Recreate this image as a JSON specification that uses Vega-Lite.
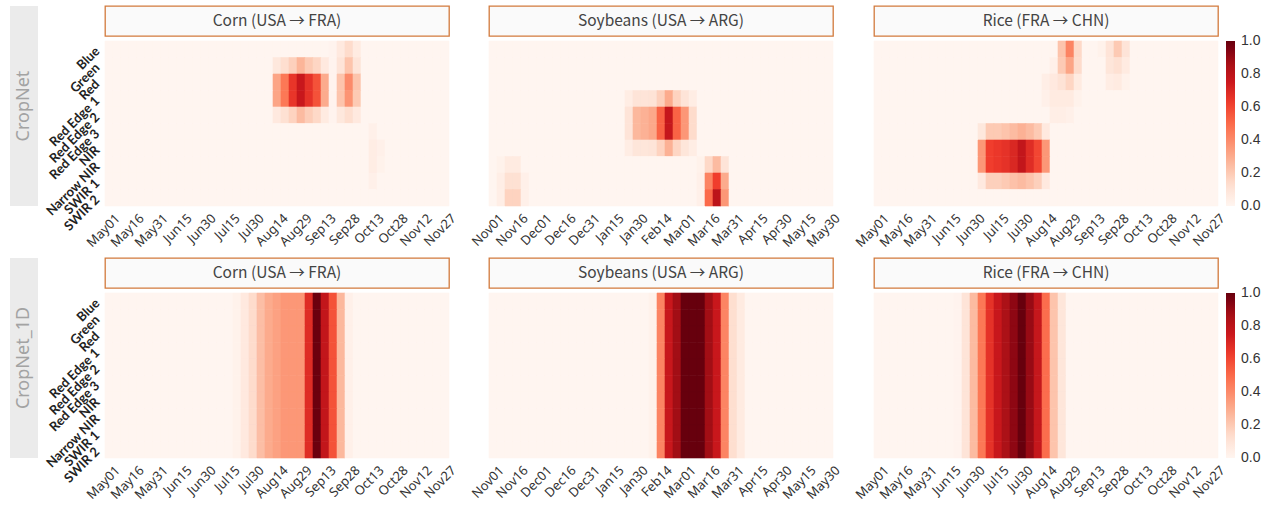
{
"$schema": "https://vega.github.io/schema/vega-lite/v6.json",
"padding": {"left": 10, "top": 5, "right": 5, "bottom": 0},
"background": "white",
"config": {"view": {"stroke": null}, "axis": {"grid": false}, "legend": {"gradientStrokeWidth": 0}},
"datasets": {
"cornA": [
{"b":"Blue","May01":0,"May06":0,"May11":0,"May16":0,"May21":0,"May26":0,"May31":0,"Jun05":0,"Jun10":0,"Jun15":0,"Jun20":0,"Jun25":0,"Jun30":0,"Jul05":0,"Jul10":0,"Jul15":0,"Jul20":0,"Jul25":0,"Jul30":0,"Aug04":0,"Aug09":0,"Aug14":0,"Aug19":0,"Aug24":0,"Aug29":0,"Sep03":0,"Sep08":0,"Sep13":0,"Sep18":0.01,"Sep23":0.07,"Sep28":0.14,"Oct03":0.06,"Oct08":0,"Oct13":0,"Oct18":0,"Oct23":0,"Oct28":0,"Nov02":0,"Nov07":0,"Nov12":0,"Nov17":0,"Nov22":0,"Nov27":0},
{"b":"Green","May01":0,"May06":0,"May11":0,"May16":0,"May21":0,"May26":0,"May31":0,"Jun05":0,"Jun10":0,"Jun15":0,"Jun20":0,"Jun25":0,"Jun30":0,"Jul05":0,"Jul10":0,"Jul15":0,"Jul20":0,"Jul25":0,"Jul30":0,"Aug04":0,"Aug09":0,"Aug14":0.08,"Aug19":0.13,"Aug24":0.18,"Aug29":0.27,"Sep03":0.2,"Sep08":0.16,"Sep13":0.07,"Sep18":0.01,"Sep23":0.1,"Sep28":0.22,"Oct03":0.1,"Oct08":0,"Oct13":0,"Oct18":0,"Oct23":0,"Oct28":0,"Nov02":0,"Nov07":0,"Nov12":0,"Nov17":0,"Nov22":0,"Nov27":0},
{"b":"Red","May01":0,"May06":0,"May11":0,"May16":0,"May21":0,"May26":0,"May31":0,"Jun05":0,"Jun10":0,"Jun15":0,"Jun20":0,"Jun25":0,"Jun30":0,"Jul05":0,"Jul10":0,"Jul15":0,"Jul20":0,"Jul25":0,"Jul30":0,"Aug04":0,"Aug09":0,"Aug14":0.32,"Aug19":0.46,"Aug24":0.65,"Aug29":0.76,"Sep03":0.66,"Sep08":0.57,"Sep13":0.3,"Sep18":0.01,"Sep23":0.22,"Sep28":0.4,"Oct03":0.22,"Oct08":0,"Oct13":0,"Oct18":0,"Oct23":0,"Oct28":0,"Nov02":0,"Nov07":0,"Nov12":0,"Nov17":0,"Nov22":0,"Nov27":0},
{"b":"Red Edge 1","May01":0,"May06":0,"May11":0,"May16":0,"May21":0,"May26":0,"May31":0,"Jun05":0,"Jun10":0,"Jun15":0,"Jun20":0,"Jun25":0,"Jun30":0,"Jul05":0,"Jul10":0,"Jul15":0,"Jul20":0,"Jul25":0,"Jul30":0,"Aug04":0,"Aug09":0,"Aug14":0.32,"Aug19":0.46,"Aug24":0.65,"Aug29":0.76,"Sep03":0.66,"Sep08":0.57,"Sep13":0.3,"Sep18":0.01,"Sep23":0.22,"Sep28":0.37,"Oct03":0.2,"Oct08":0,"Oct13":0,"Oct18":0,"Oct23":0,"Oct28":0,"Nov02":0,"Nov07":0,"Nov12":0,"Nov17":0,"Nov22":0,"Nov27":0},
{"b":"Red Edge 2","May01":0,"May06":0,"May11":0,"May16":0,"May21":0,"May26":0,"May31":0,"Jun05":0,"Jun10":0,"Jun15":0,"Jun20":0,"Jun25":0,"Jun30":0,"Jul05":0,"Jul10":0,"Jul15":0,"Jul20":0,"Jul25":0,"Jul30":0,"Aug04":0,"Aug09":0,"Aug14":0.07,"Aug19":0.12,"Aug24":0.17,"Aug29":0.25,"Sep03":0.19,"Sep08":0.15,"Sep13":0.06,"Sep18":0.01,"Sep23":0.08,"Sep28":0.13,"Oct03":0.07,"Oct08":0,"Oct13":0,"Oct18":0,"Oct23":0,"Oct28":0,"Nov02":0,"Nov07":0,"Nov12":0,"Nov17":0,"Nov22":0,"Nov27":0},
{"b":"Red Edge 3","May01":0,"May06":0,"May11":0,"May16":0,"May21":0,"May26":0,"May31":0,"Jun05":0,"Jun10":0,"Jun15":0,"Jun20":0,"Jun25":0,"Jun30":0,"Jul05":0,"Jul10":0,"Jul15":0,"Jul20":0,"Jul25":0,"Jul30":0,"Aug04":0,"Aug09":0,"Aug14":0,"Aug19":0,"Aug24":0,"Aug29":0,"Sep03":0,"Sep08":0,"Sep13":0,"Sep18":0,"Sep23":0,"Sep28":0,"Oct03":0,"Oct08":0,"Oct13":0.03,"Oct18":0,"Oct23":0,"Oct28":0,"Nov02":0,"Nov07":0,"Nov12":0,"Nov17":0,"Nov22":0,"Nov27":0},
{"b":"NIR","May01":0,"May06":0,"May11":0,"May16":0,"May21":0,"May26":0,"May31":0,"Jun05":0,"Jun10":0,"Jun15":0,"Jun20":0,"Jun25":0,"Jun30":0,"Jul05":0,"Jul10":0,"Jul15":0,"Jul20":0,"Jul25":0,"Jul30":0,"Aug04":0,"Aug09":0,"Aug14":0,"Aug19":0,"Aug24":0,"Aug29":0,"Sep03":0,"Sep08":0,"Sep13":0,"Sep18":0,"Sep23":0,"Sep28":0,"Oct03":0,"Oct08":0,"Oct13":0.05,"Oct18":0.03,"Oct23":0,"Oct28":0,"Nov02":0,"Nov07":0,"Nov12":0,"Nov17":0,"Nov22":0,"Nov27":0},
{"b":"Narrow NIR","May01":0,"May06":0,"May11":0,"May16":0,"May21":0,"May26":0,"May31":0,"Jun05":0,"Jun10":0,"Jun15":0,"Jun20":0,"Jun25":0,"Jun30":0,"Jul05":0,"Jul10":0,"Jul15":0,"Jul20":0,"Jul25":0,"Jul30":0,"Aug04":0,"Aug09":0,"Aug14":0,"Aug19":0,"Aug24":0,"Aug29":0,"Sep03":0,"Sep08":0,"Sep13":0,"Sep18":0,"Sep23":0,"Sep28":0,"Oct03":0,"Oct08":0,"Oct13":0.05,"Oct18":0.02,"Oct23":0,"Oct28":0,"Nov02":0,"Nov07":0,"Nov12":0,"Nov17":0,"Nov22":0,"Nov27":0},
{"b":"SWIR 1","May01":0,"May06":0,"May11":0,"May16":0,"May21":0,"May26":0,"May31":0,"Jun05":0,"Jun10":0,"Jun15":0,"Jun20":0,"Jun25":0,"Jun30":0,"Jul05":0,"Jul10":0,"Jul15":0,"Jul20":0,"Jul25":0,"Jul30":0,"Aug04":0,"Aug09":0,"Aug14":0,"Aug19":0,"Aug24":0,"Aug29":0,"Sep03":0,"Sep08":0,"Sep13":0,"Sep18":0,"Sep23":0,"Sep28":0,"Oct03":0,"Oct08":0,"Oct13":0.03,"Oct18":0,"Oct23":0,"Oct28":0,"Nov02":0,"Nov07":0,"Nov12":0,"Nov17":0,"Nov22":0,"Nov27":0},
{"b":"SWIR 2","May01":0,"May06":0,"May11":0,"May16":0,"May21":0,"May26":0,"May31":0,"Jun05":0,"Jun10":0,"Jun15":0,"Jun20":0,"Jun25":0,"Jun30":0,"Jul05":0,"Jul10":0,"Jul15":0,"Jul20":0,"Jul25":0,"Jul30":0,"Aug04":0,"Aug09":0,"Aug14":0,"Aug19":0,"Aug24":0,"Aug29":0,"Sep03":0,"Sep08":0,"Sep13":0,"Sep18":0,"Sep23":0,"Sep28":0,"Oct03":0,"Oct08":0,"Oct13":0,"Oct18":0,"Oct23":0,"Oct28":0,"Nov02":0,"Nov07":0,"Nov12":0,"Nov17":0,"Nov22":0,"Nov27":0}
],
"soyA": [
{"b":"Blue","Nov01":0,"Nov06":0,"Nov11":0,"Nov16":0,"Nov21":0,"Nov26":0,"Dec01":0,"Dec06":0,"Dec11":0,"Dec16":0,"Dec21":0,"Dec26":0,"Dec31":0,"Jan05":0,"Jan10":0,"Jan15":0,"Jan20":0,"Jan25":0,"Jan30":0,"Feb04":0,"Feb09":0,"Feb14":0,"Feb19":0,"Feb24":0,"Mar01":0,"Mar06":0,"Mar11":0,"Mar16":0,"Mar21":0,"Mar26":0,"Mar31":0,"Apr05":0,"Apr10":0,"Apr15":0,"Apr20":0,"Apr25":0,"Apr30":0,"May05":0,"May10":0,"May15":0,"May20":0,"May25":0,"May30":0},
{"b":"Green","Nov01":0,"Nov06":0,"Nov11":0,"Nov16":0,"Nov21":0,"Nov26":0,"Dec01":0,"Dec06":0,"Dec11":0,"Dec16":0,"Dec21":0,"Dec26":0,"Dec31":0,"Jan05":0,"Jan10":0,"Jan15":0,"Jan20":0,"Jan25":0,"Jan30":0,"Feb04":0,"Feb09":0,"Feb14":0,"Feb19":0,"Feb24":0,"Mar01":0,"Mar06":0,"Mar11":0,"Mar16":0,"Mar21":0,"Mar26":0,"Mar31":0,"Apr05":0,"Apr10":0,"Apr15":0,"Apr20":0,"Apr25":0,"Apr30":0,"May05":0,"May10":0,"May15":0,"May20":0,"May25":0,"May30":0},
{"b":"Red","Nov01":0,"Nov06":0,"Nov11":0,"Nov16":0,"Nov21":0,"Nov26":0,"Dec01":0,"Dec06":0,"Dec11":0,"Dec16":0,"Dec21":0,"Dec26":0,"Dec31":0,"Jan05":0,"Jan10":0,"Jan15":0,"Jan20":0,"Jan25":0,"Jan30":0,"Feb04":0,"Feb09":0,"Feb14":0,"Feb19":0,"Feb24":0,"Mar01":0,"Mar06":0,"Mar11":0,"Mar16":0,"Mar21":0,"Mar26":0,"Mar31":0,"Apr05":0,"Apr10":0,"Apr15":0,"Apr20":0,"Apr25":0,"Apr30":0,"May05":0,"May10":0,"May15":0,"May20":0,"May25":0,"May30":0},
{"b":"Red Edge 1","Nov01":0,"Nov06":0,"Nov11":0,"Nov16":0,"Nov21":0,"Nov26":0,"Dec01":0,"Dec06":0,"Dec11":0,"Dec16":0,"Dec21":0,"Dec26":0,"Dec31":0,"Jan05":0,"Jan10":0,"Jan15":0,"Jan20":0,"Jan25":0.05,"Jan30":0.1,"Feb04":0.1,"Feb09":0.11,"Feb14":0.18,"Feb19":0.3,"Feb24":0.17,"Mar01":0.1,"Mar06":0.05,"Mar11":0,"Mar16":0,"Mar21":0,"Mar26":0,"Mar31":0,"Apr05":0,"Apr10":0,"Apr15":0,"Apr20":0,"Apr25":0,"Apr30":0,"May05":0,"May10":0,"May15":0,"May20":0,"May25":0,"May30":0},
{"b":"Red Edge 2","Nov01":0,"Nov06":0,"Nov11":0,"Nov16":0,"Nov21":0,"Nov26":0,"Dec01":0,"Dec06":0,"Dec11":0,"Dec16":0,"Dec21":0,"Dec26":0,"Dec31":0,"Jan05":0,"Jan10":0,"Jan15":0,"Jan20":0,"Jan25":0.1,"Jan30":0.26,"Feb04":0.28,"Feb09":0.31,"Feb14":0.52,"Feb19":0.77,"Feb24":0.52,"Mar01":0.36,"Mar06":0.14,"Mar11":0,"Mar16":0,"Mar21":0,"Mar26":0,"Mar31":0,"Apr05":0,"Apr10":0,"Apr15":0,"Apr20":0,"Apr25":0,"Apr30":0,"May05":0,"May10":0,"May15":0,"May20":0,"May25":0,"May30":0},
{"b":"Red Edge 3","Nov01":0,"Nov06":0,"Nov11":0,"Nov16":0,"Nov21":0,"Nov26":0,"Dec01":0,"Dec06":0,"Dec11":0,"Dec16":0,"Dec21":0,"Dec26":0,"Dec31":0,"Jan05":0,"Jan10":0,"Jan15":0,"Jan20":0,"Jan25":0.1,"Jan30":0.26,"Feb04":0.28,"Feb09":0.31,"Feb14":0.52,"Feb19":0.77,"Feb24":0.52,"Mar01":0.36,"Mar06":0.14,"Mar11":0,"Mar16":0,"Mar21":0,"Mar26":0,"Mar31":0,"Apr05":0,"Apr10":0,"Apr15":0,"Apr20":0,"Apr25":0,"Apr30":0,"May05":0,"May10":0,"May15":0,"May20":0,"May25":0,"May30":0},
{"b":"NIR","Nov01":0,"Nov06":0,"Nov11":0,"Nov16":0,"Nov21":0,"Nov26":0,"Dec01":0,"Dec06":0,"Dec11":0,"Dec16":0,"Dec21":0,"Dec26":0,"Dec31":0,"Jan05":0,"Jan10":0,"Jan15":0,"Jan20":0,"Jan25":0.05,"Jan30":0.09,"Feb04":0.09,"Feb09":0.1,"Feb14":0.17,"Feb19":0.28,"Feb24":0.16,"Mar01":0.09,"Mar06":0.05,"Mar11":0,"Mar16":0,"Mar21":0,"Mar26":0,"Mar31":0,"Apr05":0,"Apr10":0,"Apr15":0,"Apr20":0,"Apr25":0,"Apr30":0,"May05":0,"May10":0,"May15":0,"May20":0,"May25":0,"May30":0},
{"b":"Narrow NIR","Nov01":0,"Nov06":0.02,"Nov11":0.06,"Nov16":0.06,"Nov21":0,"Nov26":0,"Dec01":0,"Dec06":0,"Dec11":0,"Dec16":0,"Dec21":0,"Dec26":0,"Dec31":0,"Jan05":0,"Jan10":0,"Jan15":0,"Jan20":0,"Jan25":0,"Jan30":0,"Feb04":0,"Feb09":0,"Feb14":0,"Feb19":0,"Feb24":0,"Mar01":0,"Mar06":0,"Mar11":0.02,"Mar16":0.15,"Mar21":0.25,"Mar26":0.1,"Mar31":0,"Apr05":0,"Apr10":0,"Apr15":0,"Apr20":0,"Apr25":0,"Apr30":0,"May05":0,"May10":0,"May15":0,"May20":0,"May25":0,"May30":0},
{"b":"SWIR 1","Nov01":0,"Nov06":0.04,"Nov11":0.12,"Nov16":0.12,"Nov21":0.03,"Nov26":0,"Dec01":0,"Dec06":0,"Dec11":0,"Dec16":0,"Dec21":0,"Dec26":0,"Dec31":0,"Jan05":0,"Jan10":0,"Jan15":0,"Jan20":0,"Jan25":0,"Jan30":0,"Feb04":0,"Feb09":0,"Feb14":0,"Feb19":0,"Feb24":0,"Mar01":0,"Mar06":0,"Mar11":0.03,"Mar16":0.42,"Mar21":0.62,"Mar26":0.3,"Mar31":0,"Apr05":0,"Apr10":0,"Apr15":0,"Apr20":0,"Apr25":0,"Apr30":0,"May05":0,"May10":0,"May15":0,"May20":0,"May25":0,"May30":0},
{"b":"SWIR 2","Nov01":0,"Nov06":0.04,"Nov11":0.17,"Nov16":0.17,"Nov21":0.03,"Nov26":0,"Dec01":0,"Dec06":0,"Dec11":0,"Dec16":0,"Dec21":0,"Dec26":0,"Dec31":0,"Jan05":0,"Jan10":0,"Jan15":0,"Jan20":0,"Jan25":0,"Jan30":0,"Feb04":0,"Feb09":0,"Feb14":0,"Feb19":0,"Feb24":0,"Mar01":0,"Mar06":0,"Mar11":0.03,"Mar16":0.5,"Mar21":0.8,"Mar26":0.36,"Mar31":0,"Apr05":0,"Apr10":0,"Apr15":0,"Apr20":0,"Apr25":0,"Apr30":0,"May05":0,"May10":0,"May15":0,"May20":0,"May25":0,"May30":0}
],
"riceA": [
{"b":"Blue","May01":0,"May06":0,"May11":0,"May16":0,"May21":0,"May26":0,"May31":0,"Jun05":0,"Jun10":0,"Jun15":0,"Jun20":0,"Jun25":0,"Jun30":0,"Jul05":0,"Jul10":0,"Jul15":0,"Jul20":0,"Jul25":0,"Jul30":0,"Aug04":0,"Aug09":0,"Aug14":0,"Aug19":0,"Aug24":0.22,"Aug29":0.42,"Sep03":0.15,"Sep08":0,"Sep13":0,"Sep18":0.02,"Sep23":0.1,"Sep28":0.2,"Oct03":0.1,"Oct08":0,"Oct13":0,"Oct18":0,"Oct23":0,"Oct28":0,"Nov02":0,"Nov07":0,"Nov12":0,"Nov17":0,"Nov22":0,"Nov27":0},
{"b":"Green","May01":0,"May06":0,"May11":0,"May16":0,"May21":0,"May26":0,"May31":0,"Jun05":0,"Jun10":0,"Jun15":0,"Jun20":0,"Jun25":0,"Jun30":0,"Jul05":0,"Jul10":0,"Jul15":0,"Jul20":0,"Jul25":0,"Jul30":0,"Aug04":0,"Aug09":0,"Aug14":0,"Aug19":0.03,"Aug24":0.2,"Aug29":0.32,"Sep03":0.14,"Sep08":0,"Sep13":0,"Sep18":0,"Sep23":0.09,"Sep28":0.12,"Oct03":0.06,"Oct08":0,"Oct13":0,"Oct18":0,"Oct23":0,"Oct28":0,"Nov02":0,"Nov07":0,"Nov12":0,"Nov17":0,"Nov22":0,"Nov27":0},
{"b":"Red","May01":0,"May06":0,"May11":0,"May16":0,"May21":0,"May26":0,"May31":0,"Jun05":0,"Jun10":0,"Jun15":0,"Jun20":0,"Jun25":0,"Jun30":0,"Jul05":0,"Jul10":0,"Jul15":0,"Jul20":0,"Jul25":0,"Jul30":0,"Aug04":0,"Aug09":0,"Aug14":0.04,"Aug19":0.07,"Aug24":0.11,"Aug29":0.16,"Sep03":0.06,"Sep08":0,"Sep13":0,"Sep18":0,"Sep23":0.05,"Sep28":0.06,"Oct03":0.02,"Oct08":0,"Oct13":0,"Oct18":0,"Oct23":0,"Oct28":0,"Nov02":0,"Nov07":0,"Nov12":0,"Nov17":0,"Nov22":0,"Nov27":0},
{"b":"Red Edge 1","May01":0,"May06":0,"May11":0,"May16":0,"May21":0,"May26":0,"May31":0,"Jun05":0,"Jun10":0,"Jun15":0,"Jun20":0,"Jun25":0,"Jun30":0,"Jul05":0,"Jul10":0,"Jul15":0,"Jul20":0,"Jul25":0,"Jul30":0,"Aug04":0,"Aug09":0,"Aug14":0.03,"Aug19":0.06,"Aug24":0.06,"Aug29":0.06,"Sep03":0.02,"Sep08":0,"Sep13":0,"Sep18":0,"Sep23":0,"Sep28":0,"Oct03":0,"Oct08":0,"Oct13":0,"Oct18":0,"Oct23":0,"Oct28":0,"Nov02":0,"Nov07":0,"Nov12":0,"Nov17":0,"Nov22":0,"Nov27":0},
{"b":"Red Edge 2","May01":0,"May06":0,"May11":0,"May16":0,"May21":0,"May26":0,"May31":0,"Jun05":0,"Jun10":0,"Jun15":0,"Jun20":0,"Jun25":0,"Jun30":0,"Jul05":0,"Jul10":0,"Jul15":0,"Jul20":0,"Jul25":0,"Jul30":0,"Aug04":0,"Aug09":0,"Aug14":0,"Aug19":0.04,"Aug24":0.04,"Aug29":0.03,"Sep03":0,"Sep08":0,"Sep13":0,"Sep18":0,"Sep23":0,"Sep28":0,"Oct03":0,"Oct08":0,"Oct13":0,"Oct18":0,"Oct23":0,"Oct28":0,"Nov02":0,"Nov07":0,"Nov12":0,"Nov17":0,"Nov22":0,"Nov27":0},
{"b":"Red Edge 3","May01":0,"May06":0,"May11":0,"May16":0,"May21":0,"May26":0,"May31":0,"Jun05":0,"Jun10":0,"Jun15":0,"Jun20":0,"Jun25":0,"Jun30":0,"Jul05":0.08,"Jul10":0.2,"Jul15":0.2,"Jul20":0.22,"Jul25":0.25,"Jul30":0.28,"Aug04":0.25,"Aug09":0.2,"Aug14":0.07,"Aug19":0,"Aug24":0,"Aug29":0,"Sep03":0,"Sep08":0,"Sep13":0,"Sep18":0,"Sep23":0,"Sep28":0,"Oct03":0,"Oct08":0,"Oct13":0,"Oct18":0,"Oct23":0,"Oct28":0,"Nov02":0,"Nov07":0,"Nov12":0,"Nov17":0,"Nov22":0,"Nov27":0},
{"b":"NIR","May01":0,"May06":0,"May11":0,"May16":0,"May21":0,"May26":0,"May31":0,"Jun05":0,"Jun10":0,"Jun15":0,"Jun20":0,"Jun25":0,"Jun30":0,"Jul05":0.36,"Jul10":0.62,"Jul15":0.64,"Jul20":0.66,"Jul25":0.7,"Jul30":0.78,"Aug04":0.68,"Aug09":0.6,"Aug14":0.36,"Aug19":0,"Aug24":0,"Aug29":0,"Sep03":0,"Sep08":0,"Sep13":0,"Sep18":0,"Sep23":0,"Sep28":0,"Oct03":0,"Oct08":0,"Oct13":0,"Oct18":0,"Oct23":0,"Oct28":0,"Nov02":0,"Nov07":0,"Nov12":0,"Nov17":0,"Nov22":0,"Nov27":0},
{"b":"Narrow NIR","May01":0,"May06":0,"May11":0,"May16":0,"May21":0,"May26":0,"May31":0,"Jun05":0,"Jun10":0,"Jun15":0,"Jun20":0,"Jun25":0,"Jun30":0,"Jul05":0.36,"Jul10":0.62,"Jul15":0.64,"Jul20":0.66,"Jul25":0.7,"Jul30":0.78,"Aug04":0.68,"Aug09":0.6,"Aug14":0.36,"Aug19":0,"Aug24":0,"Aug29":0,"Sep03":0,"Sep08":0,"Sep13":0,"Sep18":0,"Sep23":0,"Sep28":0,"Oct03":0,"Oct08":0,"Oct13":0,"Oct18":0,"Oct23":0,"Oct28":0,"Nov02":0,"Nov07":0,"Nov12":0,"Nov17":0,"Nov22":0,"Nov27":0},
{"b":"SWIR 1","May01":0,"May06":0,"May11":0,"May16":0,"May21":0,"May26":0,"May31":0,"Jun05":0,"Jun10":0,"Jun15":0,"Jun20":0,"Jun25":0,"Jun30":0,"Jul05":0.07,"Jul10":0.18,"Jul15":0.18,"Jul20":0.2,"Jul25":0.23,"Jul30":0.25,"Aug04":0.22,"Aug09":0.18,"Aug14":0.07,"Aug19":0,"Aug24":0,"Aug29":0,"Sep03":0,"Sep08":0,"Sep13":0,"Sep18":0,"Sep23":0,"Sep28":0,"Oct03":0,"Oct08":0,"Oct13":0,"Oct18":0,"Oct23":0,"Oct28":0,"Nov02":0,"Nov07":0,"Nov12":0,"Nov17":0,"Nov22":0,"Nov27":0},
{"b":"SWIR 2","May01":0,"May06":0,"May11":0,"May16":0,"May21":0,"May26":0,"May31":0,"Jun05":0,"Jun10":0,"Jun15":0,"Jun20":0,"Jun25":0,"Jun30":0,"Jul05":0,"Jul10":0,"Jul15":0,"Jul20":0,"Jul25":0,"Jul30":0,"Aug04":0,"Aug09":0,"Aug14":0,"Aug19":0,"Aug24":0,"Aug29":0,"Sep03":0,"Sep08":0,"Sep13":0,"Sep18":0,"Sep23":0,"Sep28":0,"Oct03":0,"Oct08":0,"Oct13":0,"Oct18":0,"Oct23":0,"Oct28":0,"Nov02":0,"Nov07":0,"Nov12":0,"Nov17":0,"Nov22":0,"Nov27":0}
],
"cornB": [
{"b":"Blue","May01":0,"May06":0,"May11":0,"May16":0,"May21":0,"May26":0,"May31":0,"Jun05":0,"Jun10":0,"Jun15":0,"Jun20":0,"Jun25":0,"Jun30":0,"Jul05":0,"Jul10":0,"Jul15":0,"Jul20":0.02,"Jul25":0.07,"Jul30":0.14,"Aug04":0.24,"Aug09":0.3,"Aug14":0.33,"Aug19":0.36,"Aug24":0.36,"Aug29":0.36,"Sep03":0.68,"Sep08":0.99,"Sep13":0.78,"Sep18":0.57,"Sep23":0.26,"Sep28":0.03,"Oct03":0,"Oct08":0,"Oct13":0,"Oct18":0,"Oct23":0,"Oct28":0,"Nov02":0,"Nov07":0,"Nov12":0,"Nov17":0,"Nov22":0,"Nov27":0},
{"b":"Green","May01":0,"May06":0,"May11":0,"May16":0,"May21":0,"May26":0,"May31":0,"Jun05":0,"Jun10":0,"Jun15":0,"Jun20":0,"Jun25":0,"Jun30":0,"Jul05":0,"Jul10":0,"Jul15":0,"Jul20":0.02,"Jul25":0.07,"Jul30":0.14,"Aug04":0.24,"Aug09":0.3,"Aug14":0.33,"Aug19":0.36,"Aug24":0.36,"Aug29":0.36,"Sep03":0.68,"Sep08":0.99,"Sep13":0.78,"Sep18":0.57,"Sep23":0.26,"Sep28":0.03,"Oct03":0,"Oct08":0,"Oct13":0,"Oct18":0,"Oct23":0,"Oct28":0,"Nov02":0,"Nov07":0,"Nov12":0,"Nov17":0,"Nov22":0,"Nov27":0},
{"b":"Red","May01":0,"May06":0,"May11":0,"May16":0,"May21":0,"May26":0,"May31":0,"Jun05":0,"Jun10":0,"Jun15":0,"Jun20":0,"Jun25":0,"Jun30":0,"Jul05":0,"Jul10":0,"Jul15":0,"Jul20":0.02,"Jul25":0.07,"Jul30":0.14,"Aug04":0.24,"Aug09":0.3,"Aug14":0.33,"Aug19":0.36,"Aug24":0.36,"Aug29":0.36,"Sep03":0.68,"Sep08":0.99,"Sep13":0.78,"Sep18":0.57,"Sep23":0.26,"Sep28":0.03,"Oct03":0,"Oct08":0,"Oct13":0,"Oct18":0,"Oct23":0,"Oct28":0,"Nov02":0,"Nov07":0,"Nov12":0,"Nov17":0,"Nov22":0,"Nov27":0},
{"b":"Red Edge 1","May01":0,"May06":0,"May11":0,"May16":0,"May21":0,"May26":0,"May31":0,"Jun05":0,"Jun10":0,"Jun15":0,"Jun20":0,"Jun25":0,"Jun30":0,"Jul05":0,"Jul10":0,"Jul15":0,"Jul20":0.02,"Jul25":0.07,"Jul30":0.14,"Aug04":0.24,"Aug09":0.3,"Aug14":0.33,"Aug19":0.36,"Aug24":0.36,"Aug29":0.36,"Sep03":0.68,"Sep08":0.99,"Sep13":0.78,"Sep18":0.57,"Sep23":0.26,"Sep28":0.03,"Oct03":0,"Oct08":0,"Oct13":0,"Oct18":0,"Oct23":0,"Oct28":0,"Nov02":0,"Nov07":0,"Nov12":0,"Nov17":0,"Nov22":0,"Nov27":0},
{"b":"Red Edge 2","May01":0,"May06":0,"May11":0,"May16":0,"May21":0,"May26":0,"May31":0,"Jun05":0,"Jun10":0,"Jun15":0,"Jun20":0,"Jun25":0,"Jun30":0,"Jul05":0,"Jul10":0,"Jul15":0,"Jul20":0.02,"Jul25":0.07,"Jul30":0.14,"Aug04":0.24,"Aug09":0.3,"Aug14":0.33,"Aug19":0.36,"Aug24":0.36,"Aug29":0.36,"Sep03":0.68,"Sep08":0.99,"Sep13":0.78,"Sep18":0.57,"Sep23":0.26,"Sep28":0.03,"Oct03":0,"Oct08":0,"Oct13":0,"Oct18":0,"Oct23":0,"Oct28":0,"Nov02":0,"Nov07":0,"Nov12":0,"Nov17":0,"Nov22":0,"Nov27":0},
{"b":"Red Edge 3","May01":0,"May06":0,"May11":0,"May16":0,"May21":0,"May26":0,"May31":0,"Jun05":0,"Jun10":0,"Jun15":0,"Jun20":0,"Jun25":0,"Jun30":0,"Jul05":0,"Jul10":0,"Jul15":0,"Jul20":0.02,"Jul25":0.07,"Jul30":0.14,"Aug04":0.24,"Aug09":0.3,"Aug14":0.33,"Aug19":0.36,"Aug24":0.36,"Aug29":0.36,"Sep03":0.68,"Sep08":0.99,"Sep13":0.78,"Sep18":0.57,"Sep23":0.26,"Sep28":0.03,"Oct03":0,"Oct08":0,"Oct13":0,"Oct18":0,"Oct23":0,"Oct28":0,"Nov02":0,"Nov07":0,"Nov12":0,"Nov17":0,"Nov22":0,"Nov27":0},
{"b":"NIR","May01":0,"May06":0,"May11":0,"May16":0,"May21":0,"May26":0,"May31":0,"Jun05":0,"Jun10":0,"Jun15":0,"Jun20":0,"Jun25":0,"Jun30":0,"Jul05":0,"Jul10":0,"Jul15":0,"Jul20":0.02,"Jul25":0.07,"Jul30":0.14,"Aug04":0.24,"Aug09":0.3,"Aug14":0.33,"Aug19":0.36,"Aug24":0.36,"Aug29":0.36,"Sep03":0.68,"Sep08":0.99,"Sep13":0.78,"Sep18":0.57,"Sep23":0.26,"Sep28":0.03,"Oct03":0,"Oct08":0,"Oct13":0,"Oct18":0,"Oct23":0,"Oct28":0,"Nov02":0,"Nov07":0,"Nov12":0,"Nov17":0,"Nov22":0,"Nov27":0},
{"b":"Narrow NIR","May01":0,"May06":0,"May11":0,"May16":0,"May21":0,"May26":0,"May31":0,"Jun05":0,"Jun10":0,"Jun15":0,"Jun20":0,"Jun25":0,"Jun30":0,"Jul05":0,"Jul10":0,"Jul15":0,"Jul20":0.02,"Jul25":0.07,"Jul30":0.14,"Aug04":0.24,"Aug09":0.3,"Aug14":0.33,"Aug19":0.36,"Aug24":0.36,"Aug29":0.36,"Sep03":0.68,"Sep08":0.99,"Sep13":0.78,"Sep18":0.57,"Sep23":0.26,"Sep28":0.03,"Oct03":0,"Oct08":0,"Oct13":0,"Oct18":0,"Oct23":0,"Oct28":0,"Nov02":0,"Nov07":0,"Nov12":0,"Nov17":0,"Nov22":0,"Nov27":0},
{"b":"SWIR 1","May01":0,"May06":0,"May11":0,"May16":0,"May21":0,"May26":0,"May31":0,"Jun05":0,"Jun10":0,"Jun15":0,"Jun20":0,"Jun25":0,"Jun30":0,"Jul05":0,"Jul10":0,"Jul15":0,"Jul20":0.02,"Jul25":0.07,"Jul30":0.14,"Aug04":0.24,"Aug09":0.3,"Aug14":0.33,"Aug19":0.36,"Aug24":0.36,"Aug29":0.36,"Sep03":0.68,"Sep08":0.99,"Sep13":0.78,"Sep18":0.57,"Sep23":0.26,"Sep28":0.03,"Oct03":0,"Oct08":0,"Oct13":0,"Oct18":0,"Oct23":0,"Oct28":0,"Nov02":0,"Nov07":0,"Nov12":0,"Nov17":0,"Nov22":0,"Nov27":0},
{"b":"SWIR 2","May01":0,"May06":0,"May11":0,"May16":0,"May21":0,"May26":0,"May31":0,"Jun05":0,"Jun10":0,"Jun15":0,"Jun20":0,"Jun25":0,"Jun30":0,"Jul05":0,"Jul10":0,"Jul15":0,"Jul20":0.02,"Jul25":0.07,"Jul30":0.14,"Aug04":0.24,"Aug09":0.3,"Aug14":0.33,"Aug19":0.36,"Aug24":0.36,"Aug29":0.36,"Sep03":0.68,"Sep08":0.99,"Sep13":0.78,"Sep18":0.57,"Sep23":0.26,"Sep28":0.03,"Oct03":0,"Oct08":0,"Oct13":0,"Oct18":0,"Oct23":0,"Oct28":0,"Nov02":0,"Nov07":0,"Nov12":0,"Nov17":0,"Nov22":0,"Nov27":0}
],
"soyB": [
{"b":"Blue","Nov01":0,"Nov06":0,"Nov11":0,"Nov16":0,"Nov21":0,"Nov26":0,"Dec01":0,"Dec06":0,"Dec11":0,"Dec16":0,"Dec21":0,"Dec26":0,"Dec31":0,"Jan05":0,"Jan10":0,"Jan15":0,"Jan20":0,"Jan25":0,"Jan30":0,"Feb04":0,"Feb09":0.02,"Feb14":0.42,"Feb19":0.76,"Feb24":0.88,"Mar01":1,"Mar06":1,"Mar11":1,"Mar16":0.88,"Mar21":0.76,"Mar26":0.42,"Mar31":0.13,"Apr05":0.06,"Apr10":0,"Apr15":0,"Apr20":0,"Apr25":0,"Apr30":0,"May05":0,"May10":0,"May15":0,"May20":0,"May25":0,"May30":0},
{"b":"Green","Nov01":0,"Nov06":0,"Nov11":0,"Nov16":0,"Nov21":0,"Nov26":0,"Dec01":0,"Dec06":0,"Dec11":0,"Dec16":0,"Dec21":0,"Dec26":0,"Dec31":0,"Jan05":0,"Jan10":0,"Jan15":0,"Jan20":0,"Jan25":0,"Jan30":0,"Feb04":0,"Feb09":0.02,"Feb14":0.42,"Feb19":0.76,"Feb24":0.88,"Mar01":1,"Mar06":1,"Mar11":1,"Mar16":0.88,"Mar21":0.76,"Mar26":0.42,"Mar31":0.13,"Apr05":0.06,"Apr10":0,"Apr15":0,"Apr20":0,"Apr25":0,"Apr30":0,"May05":0,"May10":0,"May15":0,"May20":0,"May25":0,"May30":0},
{"b":"Red","Nov01":0,"Nov06":0,"Nov11":0,"Nov16":0,"Nov21":0,"Nov26":0,"Dec01":0,"Dec06":0,"Dec11":0,"Dec16":0,"Dec21":0,"Dec26":0,"Dec31":0,"Jan05":0,"Jan10":0,"Jan15":0,"Jan20":0,"Jan25":0,"Jan30":0,"Feb04":0,"Feb09":0.02,"Feb14":0.42,"Feb19":0.76,"Feb24":0.88,"Mar01":1,"Mar06":1,"Mar11":1,"Mar16":0.88,"Mar21":0.76,"Mar26":0.42,"Mar31":0.13,"Apr05":0.06,"Apr10":0,"Apr15":0,"Apr20":0,"Apr25":0,"Apr30":0,"May05":0,"May10":0,"May15":0,"May20":0,"May25":0,"May30":0},
{"b":"Red Edge 1","Nov01":0,"Nov06":0,"Nov11":0,"Nov16":0,"Nov21":0,"Nov26":0,"Dec01":0,"Dec06":0,"Dec11":0,"Dec16":0,"Dec21":0,"Dec26":0,"Dec31":0,"Jan05":0,"Jan10":0,"Jan15":0,"Jan20":0,"Jan25":0,"Jan30":0,"Feb04":0,"Feb09":0.02,"Feb14":0.42,"Feb19":0.76,"Feb24":0.88,"Mar01":1,"Mar06":1,"Mar11":1,"Mar16":0.88,"Mar21":0.76,"Mar26":0.42,"Mar31":0.13,"Apr05":0.06,"Apr10":0,"Apr15":0,"Apr20":0,"Apr25":0,"Apr30":0,"May05":0,"May10":0,"May15":0,"May20":0,"May25":0,"May30":0},
{"b":"Red Edge 2","Nov01":0,"Nov06":0,"Nov11":0,"Nov16":0,"Nov21":0,"Nov26":0,"Dec01":0,"Dec06":0,"Dec11":0,"Dec16":0,"Dec21":0,"Dec26":0,"Dec31":0,"Jan05":0,"Jan10":0,"Jan15":0,"Jan20":0,"Jan25":0,"Jan30":0,"Feb04":0,"Feb09":0.02,"Feb14":0.42,"Feb19":0.76,"Feb24":0.88,"Mar01":1,"Mar06":1,"Mar11":1,"Mar16":0.88,"Mar21":0.76,"Mar26":0.42,"Mar31":0.13,"Apr05":0.06,"Apr10":0,"Apr15":0,"Apr20":0,"Apr25":0,"Apr30":0,"May05":0,"May10":0,"May15":0,"May20":0,"May25":0,"May30":0},
{"b":"Red Edge 3","Nov01":0,"Nov06":0,"Nov11":0,"Nov16":0,"Nov21":0,"Nov26":0,"Dec01":0,"Dec06":0,"Dec11":0,"Dec16":0,"Dec21":0,"Dec26":0,"Dec31":0,"Jan05":0,"Jan10":0,"Jan15":0,"Jan20":0,"Jan25":0,"Jan30":0,"Feb04":0,"Feb09":0.02,"Feb14":0.42,"Feb19":0.76,"Feb24":0.88,"Mar01":1,"Mar06":1,"Mar11":1,"Mar16":0.88,"Mar21":0.76,"Mar26":0.42,"Mar31":0.13,"Apr05":0.06,"Apr10":0,"Apr15":0,"Apr20":0,"Apr25":0,"Apr30":0,"May05":0,"May10":0,"May15":0,"May20":0,"May25":0,"May30":0},
{"b":"NIR","Nov01":0,"Nov06":0,"Nov11":0,"Nov16":0,"Nov21":0,"Nov26":0,"Dec01":0,"Dec06":0,"Dec11":0,"Dec16":0,"Dec21":0,"Dec26":0,"Dec31":0,"Jan05":0,"Jan10":0,"Jan15":0,"Jan20":0,"Jan25":0,"Jan30":0,"Feb04":0,"Feb09":0.02,"Feb14":0.42,"Feb19":0.76,"Feb24":0.88,"Mar01":1,"Mar06":1,"Mar11":1,"Mar16":0.88,"Mar21":0.76,"Mar26":0.42,"Mar31":0.13,"Apr05":0.06,"Apr10":0,"Apr15":0,"Apr20":0,"Apr25":0,"Apr30":0,"May05":0,"May10":0,"May15":0,"May20":0,"May25":0,"May30":0},
{"b":"Narrow NIR","Nov01":0,"Nov06":0,"Nov11":0,"Nov16":0,"Nov21":0,"Nov26":0,"Dec01":0,"Dec06":0,"Dec11":0,"Dec16":0,"Dec21":0,"Dec26":0,"Dec31":0,"Jan05":0,"Jan10":0,"Jan15":0,"Jan20":0,"Jan25":0,"Jan30":0,"Feb04":0,"Feb09":0.02,"Feb14":0.42,"Feb19":0.76,"Feb24":0.88,"Mar01":1,"Mar06":1,"Mar11":1,"Mar16":0.88,"Mar21":0.76,"Mar26":0.42,"Mar31":0.13,"Apr05":0.06,"Apr10":0,"Apr15":0,"Apr20":0,"Apr25":0,"Apr30":0,"May05":0,"May10":0,"May15":0,"May20":0,"May25":0,"May30":0},
{"b":"SWIR 1","Nov01":0,"Nov06":0,"Nov11":0,"Nov16":0,"Nov21":0,"Nov26":0,"Dec01":0,"Dec06":0,"Dec11":0,"Dec16":0,"Dec21":0,"Dec26":0,"Dec31":0,"Jan05":0,"Jan10":0,"Jan15":0,"Jan20":0,"Jan25":0,"Jan30":0,"Feb04":0,"Feb09":0.02,"Feb14":0.42,"Feb19":0.76,"Feb24":0.88,"Mar01":1,"Mar06":1,"Mar11":1,"Mar16":0.88,"Mar21":0.76,"Mar26":0.42,"Mar31":0.13,"Apr05":0.06,"Apr10":0,"Apr15":0,"Apr20":0,"Apr25":0,"Apr30":0,"May05":0,"May10":0,"May15":0,"May20":0,"May25":0,"May30":0},
{"b":"SWIR 2","Nov01":0,"Nov06":0,"Nov11":0,"Nov16":0,"Nov21":0,"Nov26":0,"Dec01":0,"Dec06":0,"Dec11":0,"Dec16":0,"Dec21":0,"Dec26":0,"Dec31":0,"Jan05":0,"Jan10":0,"Jan15":0,"Jan20":0,"Jan25":0,"Jan30":0,"Feb04":0,"Feb09":0.02,"Feb14":0.42,"Feb19":0.76,"Feb24":0.88,"Mar01":1,"Mar06":1,"Mar11":1,"Mar16":0.88,"Mar21":0.76,"Mar26":0.42,"Mar31":0.13,"Apr05":0.06,"Apr10":0,"Apr15":0,"Apr20":0,"Apr25":0,"Apr30":0,"May05":0,"May10":0,"May15":0,"May20":0,"May25":0,"May30":0}
],
"riceB": [
{"b":"Blue","May01":0,"May06":0,"May11":0,"May16":0,"May21":0,"May26":0,"May31":0,"Jun05":0,"Jun10":0,"Jun15":0,"Jun20":0.01,"Jun25":0.1,"Jun30":0.25,"Jul05":0.46,"Jul10":0.66,"Jul15":0.76,"Jul20":0.85,"Jul25":0.92,"Jul30":1,"Aug04":0.9,"Aug09":0.77,"Aug14":0.49,"Aug19":0.22,"Aug24":0.09,"Aug29":0,"Sep03":0,"Sep08":0,"Sep13":0,"Sep18":0,"Sep23":0,"Sep28":0,"Oct03":0,"Oct08":0,"Oct13":0,"Oct18":0,"Oct23":0,"Oct28":0,"Nov02":0,"Nov07":0,"Nov12":0,"Nov17":0,"Nov22":0,"Nov27":0},
{"b":"Green","May01":0,"May06":0,"May11":0,"May16":0,"May21":0,"May26":0,"May31":0,"Jun05":0,"Jun10":0,"Jun15":0,"Jun20":0.01,"Jun25":0.1,"Jun30":0.25,"Jul05":0.46,"Jul10":0.66,"Jul15":0.76,"Jul20":0.85,"Jul25":0.92,"Jul30":1,"Aug04":0.9,"Aug09":0.77,"Aug14":0.49,"Aug19":0.22,"Aug24":0.09,"Aug29":0,"Sep03":0,"Sep08":0,"Sep13":0,"Sep18":0,"Sep23":0,"Sep28":0,"Oct03":0,"Oct08":0,"Oct13":0,"Oct18":0,"Oct23":0,"Oct28":0,"Nov02":0,"Nov07":0,"Nov12":0,"Nov17":0,"Nov22":0,"Nov27":0},
{"b":"Red","May01":0,"May06":0,"May11":0,"May16":0,"May21":0,"May26":0,"May31":0,"Jun05":0,"Jun10":0,"Jun15":0,"Jun20":0.01,"Jun25":0.1,"Jun30":0.25,"Jul05":0.46,"Jul10":0.66,"Jul15":0.76,"Jul20":0.85,"Jul25":0.92,"Jul30":1,"Aug04":0.9,"Aug09":0.77,"Aug14":0.49,"Aug19":0.22,"Aug24":0.09,"Aug29":0,"Sep03":0,"Sep08":0,"Sep13":0,"Sep18":0,"Sep23":0,"Sep28":0,"Oct03":0,"Oct08":0,"Oct13":0,"Oct18":0,"Oct23":0,"Oct28":0,"Nov02":0,"Nov07":0,"Nov12":0,"Nov17":0,"Nov22":0,"Nov27":0},
{"b":"Red Edge 1","May01":0,"May06":0,"May11":0,"May16":0,"May21":0,"May26":0,"May31":0,"Jun05":0,"Jun10":0,"Jun15":0,"Jun20":0.01,"Jun25":0.1,"Jun30":0.25,"Jul05":0.46,"Jul10":0.66,"Jul15":0.76,"Jul20":0.85,"Jul25":0.92,"Jul30":1,"Aug04":0.9,"Aug09":0.77,"Aug14":0.49,"Aug19":0.22,"Aug24":0.09,"Aug29":0,"Sep03":0,"Sep08":0,"Sep13":0,"Sep18":0,"Sep23":0,"Sep28":0,"Oct03":0,"Oct08":0,"Oct13":0,"Oct18":0,"Oct23":0,"Oct28":0,"Nov02":0,"Nov07":0,"Nov12":0,"Nov17":0,"Nov22":0,"Nov27":0},
{"b":"Red Edge 2","May01":0,"May06":0,"May11":0,"May16":0,"May21":0,"May26":0,"May31":0,"Jun05":0,"Jun10":0,"Jun15":0,"Jun20":0.01,"Jun25":0.1,"Jun30":0.25,"Jul05":0.46,"Jul10":0.66,"Jul15":0.76,"Jul20":0.85,"Jul25":0.92,"Jul30":1,"Aug04":0.9,"Aug09":0.77,"Aug14":0.49,"Aug19":0.22,"Aug24":0.09,"Aug29":0,"Sep03":0,"Sep08":0,"Sep13":0,"Sep18":0,"Sep23":0,"Sep28":0,"Oct03":0,"Oct08":0,"Oct13":0,"Oct18":0,"Oct23":0,"Oct28":0,"Nov02":0,"Nov07":0,"Nov12":0,"Nov17":0,"Nov22":0,"Nov27":0},
{"b":"Red Edge 3","May01":0,"May06":0,"May11":0,"May16":0,"May21":0,"May26":0,"May31":0,"Jun05":0,"Jun10":0,"Jun15":0,"Jun20":0.01,"Jun25":0.1,"Jun30":0.25,"Jul05":0.46,"Jul10":0.66,"Jul15":0.76,"Jul20":0.85,"Jul25":0.92,"Jul30":1,"Aug04":0.9,"Aug09":0.77,"Aug14":0.49,"Aug19":0.22,"Aug24":0.09,"Aug29":0,"Sep03":0,"Sep08":0,"Sep13":0,"Sep18":0,"Sep23":0,"Sep28":0,"Oct03":0,"Oct08":0,"Oct13":0,"Oct18":0,"Oct23":0,"Oct28":0,"Nov02":0,"Nov07":0,"Nov12":0,"Nov17":0,"Nov22":0,"Nov27":0},
{"b":"NIR","May01":0,"May06":0,"May11":0,"May16":0,"May21":0,"May26":0,"May31":0,"Jun05":0,"Jun10":0,"Jun15":0,"Jun20":0.01,"Jun25":0.1,"Jun30":0.25,"Jul05":0.46,"Jul10":0.66,"Jul15":0.76,"Jul20":0.85,"Jul25":0.92,"Jul30":1,"Aug04":0.9,"Aug09":0.77,"Aug14":0.49,"Aug19":0.22,"Aug24":0.09,"Aug29":0,"Sep03":0,"Sep08":0,"Sep13":0,"Sep18":0,"Sep23":0,"Sep28":0,"Oct03":0,"Oct08":0,"Oct13":0,"Oct18":0,"Oct23":0,"Oct28":0,"Nov02":0,"Nov07":0,"Nov12":0,"Nov17":0,"Nov22":0,"Nov27":0},
{"b":"Narrow NIR","May01":0,"May06":0,"May11":0,"May16":0,"May21":0,"May26":0,"May31":0,"Jun05":0,"Jun10":0,"Jun15":0,"Jun20":0.01,"Jun25":0.1,"Jun30":0.25,"Jul05":0.46,"Jul10":0.66,"Jul15":0.76,"Jul20":0.85,"Jul25":0.92,"Jul30":1,"Aug04":0.9,"Aug09":0.77,"Aug14":0.49,"Aug19":0.22,"Aug24":0.09,"Aug29":0,"Sep03":0,"Sep08":0,"Sep13":0,"Sep18":0,"Sep23":0,"Sep28":0,"Oct03":0,"Oct08":0,"Oct13":0,"Oct18":0,"Oct23":0,"Oct28":0,"Nov02":0,"Nov07":0,"Nov12":0,"Nov17":0,"Nov22":0,"Nov27":0},
{"b":"SWIR 1","May01":0,"May06":0,"May11":0,"May16":0,"May21":0,"May26":0,"May31":0,"Jun05":0,"Jun10":0,"Jun15":0,"Jun20":0.01,"Jun25":0.1,"Jun30":0.25,"Jul05":0.46,"Jul10":0.66,"Jul15":0.76,"Jul20":0.85,"Jul25":0.92,"Jul30":1,"Aug04":0.9,"Aug09":0.77,"Aug14":0.49,"Aug19":0.22,"Aug24":0.09,"Aug29":0,"Sep03":0,"Sep08":0,"Sep13":0,"Sep18":0,"Sep23":0,"Sep28":0,"Oct03":0,"Oct08":0,"Oct13":0,"Oct18":0,"Oct23":0,"Oct28":0,"Nov02":0,"Nov07":0,"Nov12":0,"Nov17":0,"Nov22":0,"Nov27":0},
{"b":"SWIR 2","May01":0,"May06":0,"May11":0,"May16":0,"May21":0,"May26":0,"May31":0,"Jun05":0,"Jun10":0,"Jun15":0,"Jun20":0.01,"Jun25":0.1,"Jun30":0.25,"Jul05":0.46,"Jul10":0.66,"Jul15":0.76,"Jul20":0.85,"Jul25":0.92,"Jul30":1,"Aug04":0.9,"Aug09":0.77,"Aug14":0.49,"Aug19":0.22,"Aug24":0.09,"Aug29":0,"Sep03":0,"Sep08":0,"Sep13":0,"Sep18":0,"Sep23":0,"Sep28":0,"Oct03":0,"Oct08":0,"Oct13":0,"Oct18":0,"Oct23":0,"Oct28":0,"Nov02":0,"Nov07":0,"Nov12":0,"Nov17":0,"Nov22":0,"Nov27":0}
]
},
"vconcat": [
{"hconcat": [
 {"data": {"values": [{"t": "CropNet"}]}, "width": 28, "height": 200, "view": {"fill": "#ebebeb", "stroke": null}, "mark": {"type": "text", "angle": 270, "fontSize": 18, "color": "#a3a3a3", "font": "Noto Sans"}, "encoding": {"text": {"field": "t"}}},
 {"hconcat": [
  {"vconcat": [
   {"data": {"values": [{"t": "Corn (USA → FRA)"}]}, "width": 344, "height": 30, "view": {"fill": "#fafafa", "stroke": "#d27a3c", "strokeWidth": 1.3}, "mark": {"type": "text", "fontSize": 15.5, "color": "#444444", "font": "Noto Sans CJK SC"}, "encoding": {"text": {"field": "t"}}},
   {"data": {"name": "cornA"}, "transform": [{"fold": ["May01","May06","May11","May16","May21","May26","May31","Jun05","Jun10","Jun15","Jun20","Jun25","Jun30","Jul05","Jul10","Jul15","Jul20","Jul25","Jul30","Aug04","Aug09","Aug14","Aug19","Aug24","Aug29","Sep03","Sep08","Sep13","Sep18","Sep23","Sep28","Oct03","Oct08","Oct13","Oct18","Oct23","Oct28","Nov02","Nov07","Nov12","Nov17","Nov22","Nov27"], "as": ["d", "v"]}],
    "width": 344, "height": 165, "mark": {"type": "rect", "strokeWidth": 0.6},
    "encoding": {
     "x": {"field": "d", "type": "ordinal", "sort": null, "title": null, "scale": {"padding": 0}, "axis": {"values": ["May01","May16","May31","Jun15","Jun30","Jul15","Jul30","Aug14","Aug29","Sep13","Sep28","Oct13","Oct28","Nov12","Nov27"], "ticks": false, "domain": false, "labelAngle": -45, "labelAlign": "right", "labelBaseline": "middle", "labelFontSize": 13, "labelFont": "Noto Sans", "labelColor": "#333333", "labelPadding": 10, "labelOffset": 9, "labelOverlap": false}},
     "y": {"field": "b", "type": "ordinal", "sort": ["Blue","Green","Red","Red Edge 1","Red Edge 2","Red Edge 3","NIR","Narrow NIR","SWIR 1","SWIR 2"], "title": null, "scale": {"padding": 0}, "axis": {"ticks": false, "domain": false, "labelAngle": -45, "labelAlign": "right", "labelBaseline": "middle", "labelFontWeight": "bold", "labelFontSize": 13, "labelFont": "Lato", "labelColor": "#222222", "labelPadding": 8, "labelOverlap": false}},
     "color": {"field": "v", "type": "quantitative", "scale": {"domain": [0, 0.125, 0.25, 0.375, 0.5, 0.625, 0.75, 0.875, 1], "range": ["#fff5f0","#fee0d2","#fcbba1","#fc9272","#fb6a4a","#ef3b2c","#cb181d","#a50f15","#67000d"]}, "legend": null},
     "stroke": {"field": "v", "type": "quantitative", "scale": {"domain": [0, 0.125, 0.25, 0.375, 0.5, 0.625, 0.75, 0.875, 1], "range": ["#fff5f0","#fee0d2","#fcbba1","#fc9272","#fb6a4a","#ef3b2c","#cb181d","#a50f15","#67000d"]}, "legend": null}
    }}
  ], "spacing": 5, "bounds": "flush", "resolve": {"scale": {"color": "independent"}}},
  {"vconcat": [
   {"data": {"values": [{"t": "Soybeans (USA → ARG)"}]}, "width": 344, "height": 30, "view": {"fill": "#fafafa", "stroke": "#d27a3c", "strokeWidth": 1.3}, "mark": {"type": "text", "fontSize": 15.5, "color": "#444444", "font": "Noto Sans CJK SC"}, "encoding": {"text": {"field": "t"}}},
   {"data": {"name": "soyA"}, "transform": [{"fold": ["Nov01","Nov06","Nov11","Nov16","Nov21","Nov26","Dec01","Dec06","Dec11","Dec16","Dec21","Dec26","Dec31","Jan05","Jan10","Jan15","Jan20","Jan25","Jan30","Feb04","Feb09","Feb14","Feb19","Feb24","Mar01","Mar06","Mar11","Mar16","Mar21","Mar26","Mar31","Apr05","Apr10","Apr15","Apr20","Apr25","Apr30","May05","May10","May15","May20","May25","May30"], "as": ["d", "v"]}],
    "width": 344, "height": 165, "mark": {"type": "rect", "strokeWidth": 0.6},
    "encoding": {
     "x": {"field": "d", "type": "ordinal", "sort": null, "title": null, "scale": {"padding": 0}, "axis": {"values": ["Nov01","Nov16","Dec01","Dec16","Dec31","Jan15","Jan30","Feb14","Mar01","Mar16","Mar31","Apr15","Apr30","May15","May30"], "ticks": false, "domain": false, "labelAngle": -45, "labelAlign": "right", "labelBaseline": "middle", "labelFontSize": 13, "labelFont": "Noto Sans", "labelColor": "#333333", "labelPadding": 10, "labelOffset": 9, "labelOverlap": false}},
     "y": {"field": "b", "type": "ordinal", "sort": ["Blue","Green","Red","Red Edge 1","Red Edge 2","Red Edge 3","NIR","Narrow NIR","SWIR 1","SWIR 2"], "title": null, "scale": {"padding": 0}, "axis": null},
     "color": {"field": "v", "type": "quantitative", "scale": {"domain": [0, 0.125, 0.25, 0.375, 0.5, 0.625, 0.75, 0.875, 1], "range": ["#fff5f0","#fee0d2","#fcbba1","#fc9272","#fb6a4a","#ef3b2c","#cb181d","#a50f15","#67000d"]}, "legend": null},
     "stroke": {"field": "v", "type": "quantitative", "scale": {"domain": [0, 0.125, 0.25, 0.375, 0.5, 0.625, 0.75, 0.875, 1], "range": ["#fff5f0","#fee0d2","#fcbba1","#fc9272","#fb6a4a","#ef3b2c","#cb181d","#a50f15","#67000d"]}, "legend": null}
    }}
  ], "spacing": 5, "bounds": "flush", "resolve": {"scale": {"color": "independent"}}},
  {"vconcat": [
   {"data": {"values": [{"t": "Rice (FRA → CHN)"}]}, "width": 344, "height": 30, "view": {"fill": "#fafafa", "stroke": "#d27a3c", "strokeWidth": 1.3}, "mark": {"type": "text", "fontSize": 15.5, "color": "#444444", "font": "Noto Sans CJK SC"}, "encoding": {"text": {"field": "t"}}},
   {"data": {"name": "riceA"}, "transform": [{"fold": ["May01","May06","May11","May16","May21","May26","May31","Jun05","Jun10","Jun15","Jun20","Jun25","Jun30","Jul05","Jul10","Jul15","Jul20","Jul25","Jul30","Aug04","Aug09","Aug14","Aug19","Aug24","Aug29","Sep03","Sep08","Sep13","Sep18","Sep23","Sep28","Oct03","Oct08","Oct13","Oct18","Oct23","Oct28","Nov02","Nov07","Nov12","Nov17","Nov22","Nov27"], "as": ["d", "v"]}],
    "width": 344, "height": 165, "mark": {"type": "rect", "strokeWidth": 0.6},
    "encoding": {
     "x": {"field": "d", "type": "ordinal", "sort": null, "title": null, "scale": {"padding": 0}, "axis": {"values": ["May01","May16","May31","Jun15","Jun30","Jul15","Jul30","Aug14","Aug29","Sep13","Sep28","Oct13","Oct28","Nov12","Nov27"], "ticks": false, "domain": false, "labelAngle": -45, "labelAlign": "right", "labelBaseline": "middle", "labelFontSize": 13, "labelFont": "Noto Sans", "labelColor": "#333333", "labelPadding": 10, "labelOffset": 9, "labelOverlap": false}},
     "y": {"field": "b", "type": "ordinal", "sort": ["Blue","Green","Red","Red Edge 1","Red Edge 2","Red Edge 3","NIR","Narrow NIR","SWIR 1","SWIR 2"], "title": null, "scale": {"padding": 0}, "axis": null},
     "color": {"field": "v", "type": "quantitative", "scale": {"domain": [0, 0.125, 0.25, 0.375, 0.5, 0.625, 0.75, 0.875, 1], "range": ["#fff5f0","#fee0d2","#fcbba1","#fc9272","#fb6a4a","#ef3b2c","#cb181d","#a50f15","#67000d"]}, "legend": {"orient": "right", "offset": 8, "title": null, "gradientLength": 165, "gradientThickness": 9, "values": [0, 0.2, 0.4, 0.6, 0.8, 1], "format": ".1f", "labelFontSize": 14, "labelFont": "Liberation Sans", "labelColor": "#333333", "labelOffset": 6, "encode": {"labels": {"update": {"baseline": {"value": "middle"}}}}}},
     "stroke": {"field": "v", "type": "quantitative", "scale": {"domain": [0, 0.125, 0.25, 0.375, 0.5, 0.625, 0.75, 0.875, 1], "range": ["#fff5f0","#fee0d2","#fcbba1","#fc9272","#fb6a4a","#ef3b2c","#cb181d","#a50f15","#67000d"]}, "legend": null}
    }}
  ], "spacing": 5, "bounds": "flush", "resolve": {"scale": {"color": "independent"}}}
 ], "spacing": 10, "resolve": {"scale": {"color": "independent"}}}
], "spacing": 5, "resolve": {"scale": {"color": "independent"}}},
{"hconcat": [
 {"data": {"values": [{"t": "CropNet_1D"}]}, "width": 28, "height": 200, "view": {"fill": "#ebebeb", "stroke": null}, "mark": {"type": "text", "angle": 270, "fontSize": 18, "color": "#a3a3a3", "font": "Noto Sans"}, "encoding": {"text": {"field": "t"}}},
 {"hconcat": [
  {"vconcat": [
   {"data": {"values": [{"t": "Corn (USA → FRA)"}]}, "width": 344, "height": 30, "view": {"fill": "#fafafa", "stroke": "#d27a3c", "strokeWidth": 1.3}, "mark": {"type": "text", "fontSize": 15.5, "color": "#444444", "font": "Noto Sans CJK SC"}, "encoding": {"text": {"field": "t"}}},
   {"data": {"name": "cornB"}, "transform": [{"fold": ["May01","May06","May11","May16","May21","May26","May31","Jun05","Jun10","Jun15","Jun20","Jun25","Jun30","Jul05","Jul10","Jul15","Jul20","Jul25","Jul30","Aug04","Aug09","Aug14","Aug19","Aug24","Aug29","Sep03","Sep08","Sep13","Sep18","Sep23","Sep28","Oct03","Oct08","Oct13","Oct18","Oct23","Oct28","Nov02","Nov07","Nov12","Nov17","Nov22","Nov27"], "as": ["d", "v"]}],
    "width": 344, "height": 165, "mark": {"type": "rect", "strokeWidth": 0.6},
    "encoding": {
     "x": {"field": "d", "type": "ordinal", "sort": null, "title": null, "scale": {"padding": 0}, "axis": {"values": ["May01","May16","May31","Jun15","Jun30","Jul15","Jul30","Aug14","Aug29","Sep13","Sep28","Oct13","Oct28","Nov12","Nov27"], "ticks": false, "domain": false, "labelAngle": -45, "labelAlign": "right", "labelBaseline": "middle", "labelFontSize": 13, "labelFont": "Noto Sans", "labelColor": "#333333", "labelPadding": 10, "labelOffset": 9, "labelOverlap": false}},
     "y": {"field": "b", "type": "ordinal", "sort": ["Blue","Green","Red","Red Edge 1","Red Edge 2","Red Edge 3","NIR","Narrow NIR","SWIR 1","SWIR 2"], "title": null, "scale": {"padding": 0}, "axis": {"ticks": false, "domain": false, "labelAngle": -45, "labelAlign": "right", "labelBaseline": "middle", "labelFontWeight": "bold", "labelFontSize": 13, "labelFont": "Lato", "labelColor": "#222222", "labelPadding": 8, "labelOverlap": false}},
     "color": {"field": "v", "type": "quantitative", "scale": {"domain": [0, 0.125, 0.25, 0.375, 0.5, 0.625, 0.75, 0.875, 1], "range": ["#fff5f0","#fee0d2","#fcbba1","#fc9272","#fb6a4a","#ef3b2c","#cb181d","#a50f15","#67000d"]}, "legend": null},
     "stroke": {"field": "v", "type": "quantitative", "scale": {"domain": [0, 0.125, 0.25, 0.375, 0.5, 0.625, 0.75, 0.875, 1], "range": ["#fff5f0","#fee0d2","#fcbba1","#fc9272","#fb6a4a","#ef3b2c","#cb181d","#a50f15","#67000d"]}, "legend": null}
    }}
  ], "spacing": 5, "bounds": "flush", "resolve": {"scale": {"color": "independent"}}},
  {"vconcat": [
   {"data": {"values": [{"t": "Soybeans (USA → ARG)"}]}, "width": 344, "height": 30, "view": {"fill": "#fafafa", "stroke": "#d27a3c", "strokeWidth": 1.3}, "mark": {"type": "text", "fontSize": 15.5, "color": "#444444", "font": "Noto Sans CJK SC"}, "encoding": {"text": {"field": "t"}}},
   {"data": {"name": "soyB"}, "transform": [{"fold": ["Nov01","Nov06","Nov11","Nov16","Nov21","Nov26","Dec01","Dec06","Dec11","Dec16","Dec21","Dec26","Dec31","Jan05","Jan10","Jan15","Jan20","Jan25","Jan30","Feb04","Feb09","Feb14","Feb19","Feb24","Mar01","Mar06","Mar11","Mar16","Mar21","Mar26","Mar31","Apr05","Apr10","Apr15","Apr20","Apr25","Apr30","May05","May10","May15","May20","May25","May30"], "as": ["d", "v"]}],
    "width": 344, "height": 165, "mark": {"type": "rect", "strokeWidth": 0.6},
    "encoding": {
     "x": {"field": "d", "type": "ordinal", "sort": null, "title": null, "scale": {"padding": 0}, "axis": {"values": ["Nov01","Nov16","Dec01","Dec16","Dec31","Jan15","Jan30","Feb14","Mar01","Mar16","Mar31","Apr15","Apr30","May15","May30"], "ticks": false, "domain": false, "labelAngle": -45, "labelAlign": "right", "labelBaseline": "middle", "labelFontSize": 13, "labelFont": "Noto Sans", "labelColor": "#333333", "labelPadding": 10, "labelOffset": 9, "labelOverlap": false}},
     "y": {"field": "b", "type": "ordinal", "sort": ["Blue","Green","Red","Red Edge 1","Red Edge 2","Red Edge 3","NIR","Narrow NIR","SWIR 1","SWIR 2"], "title": null, "scale": {"padding": 0}, "axis": null},
     "color": {"field": "v", "type": "quantitative", "scale": {"domain": [0, 0.125, 0.25, 0.375, 0.5, 0.625, 0.75, 0.875, 1], "range": ["#fff5f0","#fee0d2","#fcbba1","#fc9272","#fb6a4a","#ef3b2c","#cb181d","#a50f15","#67000d"]}, "legend": null},
     "stroke": {"field": "v", "type": "quantitative", "scale": {"domain": [0, 0.125, 0.25, 0.375, 0.5, 0.625, 0.75, 0.875, 1], "range": ["#fff5f0","#fee0d2","#fcbba1","#fc9272","#fb6a4a","#ef3b2c","#cb181d","#a50f15","#67000d"]}, "legend": null}
    }}
  ], "spacing": 5, "bounds": "flush", "resolve": {"scale": {"color": "independent"}}},
  {"vconcat": [
   {"data": {"values": [{"t": "Rice (FRA → CHN)"}]}, "width": 344, "height": 30, "view": {"fill": "#fafafa", "stroke": "#d27a3c", "strokeWidth": 1.3}, "mark": {"type": "text", "fontSize": 15.5, "color": "#444444", "font": "Noto Sans CJK SC"}, "encoding": {"text": {"field": "t"}}},
   {"data": {"name": "riceB"}, "transform": [{"fold": ["May01","May06","May11","May16","May21","May26","May31","Jun05","Jun10","Jun15","Jun20","Jun25","Jun30","Jul05","Jul10","Jul15","Jul20","Jul25","Jul30","Aug04","Aug09","Aug14","Aug19","Aug24","Aug29","Sep03","Sep08","Sep13","Sep18","Sep23","Sep28","Oct03","Oct08","Oct13","Oct18","Oct23","Oct28","Nov02","Nov07","Nov12","Nov17","Nov22","Nov27"], "as": ["d", "v"]}],
    "width": 344, "height": 165, "mark": {"type": "rect", "strokeWidth": 0.6},
    "encoding": {
     "x": {"field": "d", "type": "ordinal", "sort": null, "title": null, "scale": {"padding": 0}, "axis": {"values": ["May01","May16","May31","Jun15","Jun30","Jul15","Jul30","Aug14","Aug29","Sep13","Sep28","Oct13","Oct28","Nov12","Nov27"], "ticks": false, "domain": false, "labelAngle": -45, "labelAlign": "right", "labelBaseline": "middle", "labelFontSize": 13, "labelFont": "Noto Sans", "labelColor": "#333333", "labelPadding": 10, "labelOffset": 9, "labelOverlap": false}},
     "y": {"field": "b", "type": "ordinal", "sort": ["Blue","Green","Red","Red Edge 1","Red Edge 2","Red Edge 3","NIR","Narrow NIR","SWIR 1","SWIR 2"], "title": null, "scale": {"padding": 0}, "axis": null},
     "color": {"field": "v", "type": "quantitative", "scale": {"domain": [0, 0.125, 0.25, 0.375, 0.5, 0.625, 0.75, 0.875, 1], "range": ["#fff5f0","#fee0d2","#fcbba1","#fc9272","#fb6a4a","#ef3b2c","#cb181d","#a50f15","#67000d"]}, "legend": {"orient": "right", "offset": 8, "title": null, "gradientLength": 165, "gradientThickness": 9, "values": [0, 0.2, 0.4, 0.6, 0.8, 1], "format": ".1f", "labelFontSize": 14, "labelFont": "Liberation Sans", "labelColor": "#333333", "labelOffset": 6, "encode": {"labels": {"update": {"baseline": {"value": "middle"}}}}}},
     "stroke": {"field": "v", "type": "quantitative", "scale": {"domain": [0, 0.125, 0.25, 0.375, 0.5, 0.625, 0.75, 0.875, 1], "range": ["#fff5f0","#fee0d2","#fcbba1","#fc9272","#fb6a4a","#ef3b2c","#cb181d","#a50f15","#67000d"]}, "legend": null}
    }}
  ], "spacing": 5, "bounds": "flush", "resolve": {"scale": {"color": "independent"}}}
 ], "spacing": 10, "resolve": {"scale": {"color": "independent"}}}
], "spacing": 5, "resolve": {"scale": {"color": "independent"}}}
],
"spacing": 7,
"resolve": {"scale": {"color": "independent"}}
}
